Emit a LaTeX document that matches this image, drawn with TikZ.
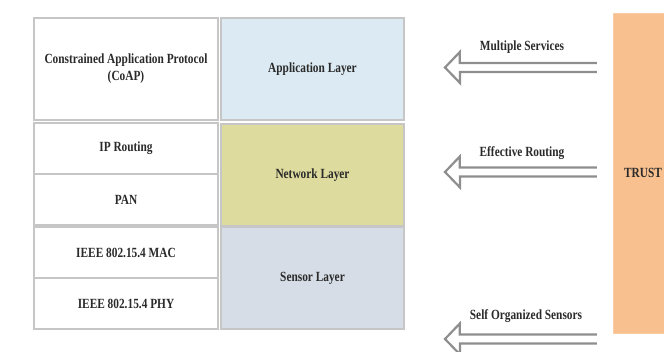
\documentclass[tikz,border=0pt]{standalone}
\usepackage{fontspec}
\setmainfont{Liberation Serif}[FakeStretch=0.81]
\usepackage{tikz}

\definecolor{appblue}{HTML}{DCEBF3}
\definecolor{netolive}{HTML}{DEDB9E}
\definecolor{sensgray}{HTML}{D6DDE6}
\definecolor{trustorange}{HTML}{F9C08F}
\definecolor{cellline}{HTML}{C6C6C6}
\definecolor{arrowgray}{HTML}{8E8E8E}
\definecolor{txtgray}{HTML}{2A2A2A}

\begin{document}
\begin{tikzpicture}[x=1pt,y=-1pt,every node/.style={font=\fontsize{14}{17}\selectfont\bfseries,text=txtgray}]
                \useasboundingbox (0,0) rectangle (664,352);
                \clip (0,0) rectangle (664,352);
                \tikzset{
                    cell/.style={draw=cellline, line width=1.8pt, fill=white, minimum width=184pt, align=center},
                    layer/.style={draw=cellline, line width=1.8pt, minimum width=183pt, minimum height=102pt},
                    arrowline/.style={draw=arrowgray, line width=2.2pt, line join=miter},
                    lbl/.style={inner sep=0pt}
                }

                % Protokol yığını (sol sütun)
                \node[cell, minimum height=102pt] (coap) at (126,69) {Constrained Application Protocol\\(CoAP)};
                \node[cell, minimum height=51pt] (iprt) at (126,148.5) {IP Routing};
                \node[cell, minimum height=51pt] (pan) at (126,199.5) {PAN};
                \node[cell, minimum height=51pt] (mac) at (126,252.5) {IEEE 802.15.4 MAC};
                \node[cell, minimum height=51pt] (phy) at (126,303.5) {IEEE 802.15.4 PHY};

                % Katmanlar (sağ sütun)
                \node[layer, fill=appblue] (app) at (312.5,69) {Application Layer};
                \node[layer, fill=netolive] (net) at (312.5,175) {Network Layer};
                \node[layer, fill=sensgray] (sen) at (312.5,278) {Sensor Layer};

                % Güven bloğu
                \node[fill=trustorange, draw=trustorange!80!white, minimum width=60pt, minimum height=320pt] (trust) at (643,173) {TRUST};

                % Boş oklar (uç noktaları adlandırılmış)
                \foreach \name/\y/\ly/\lx/\txt in {ms/67.5/47/522/Multiple Services, er/172/153/522/Effective Routing, so/339/316/526/Self Organized Sensors}{
                    \coordinate (\name) at (445,\y);
                    \coordinate (\name tail) at ([xshift=-16pt]trust.west |- \name);
                    \draw[arrowline] ([yshift=4.5pt]\name tail) -- ++(-137,0) -- ++(0,-11) -- (\name) -- ++(15,15.5) -- ++(0,-11) -- ([yshift=-4.5pt]\name tail);
                    \node[lbl] (\name lbl) at (\lx,\ly) {\txt};
                }
            \end{tikzpicture}
\end{document}
